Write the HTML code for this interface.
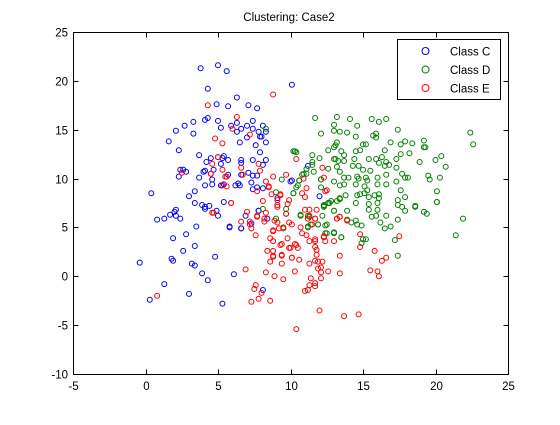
<!DOCTYPE html>
<html><head><meta charset="utf-8"><style>
body{margin:0;background:#fff;}
svg text{font-family:"Liberation Sans",Arial,sans-serif;font-size:11.5px;fill:#000;}
</style></head><body>
<svg id="chart" width="560" height="420" xmlns="http://www.w3.org/2000/svg">
<rect x="0" y="0" width="560" height="420" fill="#fff"/>
<text x="289" y="21" text-anchor="middle">Clustering: Case2</text>
<g id="marks"></g>
<g id="axes"></g>
<g id="legend"></g>
</svg>
<script>
const xTicks=[-5,0,5,10,15,20,25];
const yTicks=[-10,-5,0,5,10,15,20,25];
const seriesNames=["Class C","Class D","Class E"];
const seriesColors=["#0000ff","#008000","#ff0000"];
const classC=[[3.8,21.3],[5.0,21.6],[5.6,21.0],[4.3,19.2],[4.9,17.6],[5.7,17.4],[6.3,18.3],[7.1,17.5],[7.7,17.2],[2.7,15.4],[3.3,15.8],[4.1,16.0],[4.3,16.2],[5.0,15.9],[5.2,15.2],[5.9,15.4],[6.3,15.7],[6.6,15.1],[7.0,15.4],[7.4,15.9],[8.1,15.4],[7.8,14.8],[2.1,14.9],[3.3,14.6],[1.6,13.8],[2.3,12.9],[3.7,12.4],[4.2,11.7],[5.3,12.1],[6.5,13.7],[7.0,14.2],[7.6,13.4],[8.0,14.3],[8.3,14.8],[7.4,15.1],[2.4,10.9],[2.6,10.9],[2.3,10.2],[2.8,10.7],[4.0,10.7],[3.7,10.1],[4.7,10.9],[4.6,9.4],[5.7,10.4],[6.4,9.5],[6.6,10.4],[5.2,9.3],[6.2,9.3],[7.3,9.6],[7.7,10.3],[7.4,11.9],[5.7,11.9],[6.6,11.9],[7.9,12.7],[0.4,8.5],[3.0,8.2],[3.4,8.7],[2.1,6.8],[2.0,6.6],[4.4,7.2],[3.9,7.3],[0.8,5.8],[1.7,6.3],
[1.3,5.9],[2.1,6.2],[2.4,5.9],[3.4,7.5],[4.1,7.1],[4.1,6.9],[4.9,6.7],[5.0,6.2],[5.4,7.6],[3.5,5.1],[2.8,4.3],[1.9,3.9],[2.6,2.6],[3.4,3.1],[1.8,1.8],[1.9,1.6],[-0.4,1.4],[3.2,1.3],[3.4,1.1],[4.8,2.0],[3.9,0.3],[4.3,-0.4],[6.1,0.2],[1.3,-0.8],[3.0,-1.8],[0.3,-2.4],[5.3,-2.8],[5.8,5.1],[6.6,4.9],[6.9,6.2],[7.3,5.4],[7.8,6.7],[8.4,5.9],[8.1,-1.4],
[8.3,13.7],[7.9,14.3],[8.3,11.9],[8.1,11.4],[7.1,10.6],[7.4,10.3],[7.7,9.1],[8.1,9.0],[7.4,8.9],[10.0,9.7],[11.2,11.3],[12.0,8.2],[9.1,8.0],[7.8,6.7],[6.6,4.9],[5.8,5.0],[4.1,10.8],[4.6,9.9],[4.1,9.3],[6.5,9.3],[5.4,9.4],[5.2,11.5],[5.4,12.3],[4.5,12.1],[6.6,11.6],[6.3,14.8],[10.1,19.6],[10.1,9.8]];
const classD=[[11.7,16.2],[13.2,16.3],[14.1,16.1],[15.6,16.1],[16.1,15.8],[16.6,16.1],[13.0,15.5],[14.6,15.4],[13.0,14.9],[13.4,14.8],[12.1,14.6],[13.9,14.7],[15.9,14.6],[15.7,14.4],[14.5,14.3],[15.9,14.2],[17.4,15.0],[22.4,14.7],[22.6,13.5],[19.2,13.9],[19.2,13.2],[19.3,13.2],[18.4,13.6],[17.9,13.8],[17.6,13.5],[16.9,13.7],[15.0,13.5],[15.2,13.5],[13.2,13.7],[13.0,13.2],[12.6,12.9],[13.5,12.8],[14.5,12.8],[14.8,12.9],[16.5,12.9],[17.6,12.5],[18.2,12.6],[10.3,12.8],[10.4,12.7],[11.5,12.4],[12.0,12.1],[13.1,12.0],[13.3,11.8],[13.7,12.4],[13.7,11.8],[14.4,12.0],[15.4,12.0],[15.9,12.0],[16.3,12.2],[16.6,11.7],[17.3,12.0],[18.9,11.7],[20.0,11.9],[20.4,12.3],[20.7,11.2],[11.5,11.7],[11.5,11.4],[11.1,11.0],[12.6,11.0],[13.2,11.2],[14.3,11.3],[14.7,11.3],[15.0,10.9],[15.5,10.8],[16.1,11.6],[16.5,11.3],[16.8,11.4],[17.3,11.1],[17.7,10.5],[17.9,10.1],[18.1,10.1],[19.5,10.3],[20.3,10.1],[19.6,9.9],[10.9,10.5],[10.6,9.8],[10.4,9.1],[10.2,8.5],[12.1,9.9],[13.4,10.7],[13.7,10.1],[14.0,10.1],[13.0,9.7],[13.4,9.3],[13.7,9.4],[14.6,10.2],[14.7,10.0],[15.2,10.1],[15.3,9.8],[15.1,9.2],[14.5,9.4],[16.0,10.1],[16.6,10.4],[16.0,9.4],[16.6,9.4],[17.3,9.7],[17.6,8.8],[17.9,8.1],[17.4,7.8],[15.3,8.8],[15.1,8.5],[14.8,8.4],[14.6,8.3],[15.4,8.1],[15.8,8.3],[16.1,8.4],[16.1,8.0],[20.1,8.7],[20.1,7.6],[18.6,7.2],[13.8,8.3],[13.4,8.0],[12.8,7.7],[12.6,7.5],[12.3,7.3],[12.1,9.1],[13.0,12.0],
[12.3,7.2],[12.7,7.5],[13.2,7.7],[14.5,7.5],[15.4,7.4],[16.0,7.5],[17.4,7.3],[17.7,7.1],[17.9,6.7],[18.6,7.1],[19.2,6.6],[19.4,6.4],[20.1,7.6],[21.9,5.9],[21.4,4.2],[13.0,6.7],[13.9,6.7],[15.4,6.8],[16.0,6.8],[16.6,6.2],[15.9,6.2],[15.6,6.1],[12.2,6.2],[10.7,6.2],[11.2,6.2],[14.5,5.7],[14.2,5.5],[14.6,5.3],[14.9,5.2],[16.2,5.5],[17.4,5.8],[16.9,5.1],[16.5,4.9],[12.4,5.2],[11.9,5.3],[11.4,5.3],[11.2,5.1],[12.5,4.4],[13.0,4.5],[13.5,4.0],[15.0,3.8],[15.2,3.8],[14.9,3.4],[17.2,3.7],[17.4,2.1],
[8.3,15.1],[9.4,9.9],[9.0,8.6],[10.2,12.8],[13.1,13.4],[11.6,10.7],[12.1,9.9],[11.1,10.5],[10.8,10.4],[10.6,9.8],[10.5,9.3],[10.2,8.5],[12.6,7.5],[12.3,7.1],[13.0,6.7],[13.4,7.9],[9.7,6.9],[8.1,6.9],[9.7,6.4],[10.7,6.3],[9.0,5.9],[11.3,6.1],[11.9,5.3],[12.5,5.3],[11.2,5.0],[9.5,5.0],[12.4,4.4],[13.0,4.4],[13.5,4.0],[13.9,5.8]];
const classE=[[8.8,18.6],[4.3,17.5],[6.3,16.3],[6.0,15.1],[7.2,14.5],[4.8,14.1],[5.3,13.6],[5.0,12.2],[4.6,11.5],[5.3,10.9],[4.5,10.5],[5.5,10.2],[6.6,11.1],[6.7,10.4],[7.8,11.5],[7.9,10.8],[8.3,9.7],[8.8,10.2],[9.7,10.4],[2.5,10.6],[5.6,9.2],[7.7,8.7],[8.5,9.2],[8.7,8.4],[9.3,8.4],[9.3,8.3],[9.9,7.8],[8.1,7.7],[9.1,7.8],[5.9,7.5],[9.1,7.3],[9.8,7.4],
[4.6,6.5],[6.6,5.6],[7.0,6.6],[7.2,5.6],[7.3,4.9],[7.6,4.2],[7.7,6.1],[8.2,5.6],[8.3,6.5],[8.9,5.7],[9.1,7.1],[9.1,5.5],[8.8,4.7],[9.2,4.9],[9.5,4.9],[9.7,6.4],[9.9,5.5],[8.6,3.9],[8.8,3.6],[9.8,3.9],[9.4,3.3],[9.4,2.1],[9.9,2.9],[8.4,2.6],[8.8,2.6],[8.8,2.0],[8.6,1.5],[9.4,1.3],[10.1,1.9],[6.9,0.7],[8.3,0.4],[8.9,0.0],[9.5,-0.3],[7.6,-0.9],[7.5,-1.3],[8.0,-1.7],[7.8,-2.3],[7.3,-2.6],[8.6,-2.5],[0.8,-2.0],
[11.0,6.8],[11.3,6.8],[11.8,6.8],[11.3,6.2],[11.7,5.9],[11.5,5.3],[10.1,5.3],[10.7,5.0],[10.8,4.4],[11.3,3.6],[11.7,3.6],[12.3,4.0],[12.4,3.6],[13.0,3.6],[13.4,6.1],[13.2,5.9],[13.9,5.7],[14.8,4.3],[14.8,3.0],[15.8,2.6],[17.5,4.1],[10.3,3.3],[10.5,2.9],[10.0,2.9],[11.8,2.7],[10.1,1.9],[10.6,1.7],[11.7,1.6],[12.2,1.5],[11.3,1.3],[13.4,2.1],[16.6,1.9],[16.3,1.6],[11.9,0.8],[12.1,0.4],[12.6,0.5],[13.4,0.3],[10.3,0.5],[15.5,0.6],[16.0,0.5],[16.1,0.0],[11.4,-0.2],[12.1,-0.2],[11.7,-0.7],[11.7,-1.0],[11.3,-0.9],[11.2,-1.4],[11.0,-1.5],[12.0,-3.5],[13.7,-4.1],[14.7,-3.9],[10.4,-5.4],
[8.5,9.1],[10.4,12.0],[12.2,11.1],[12.5,8.8],[12.4,8.7],[10.8,8.5],[11.0,8.1],[7.7,6.2],[7.2,5.3],[8.2,5.9],[8.8,4.6],[9.3,3.2],[8.8,2.1],[9.4,2.2],[10.4,3.2],[11.1,4.2],[11.7,3.8],[11.7,3.0],[11.8,2.2],[11.2,5.9],[11.7,5.9],[12.3,4.1],[11.9,1.5],[12.1,0.9],[13.2,5.9],[13.4,6.1],[10.9,10.0],[11.1,9.0],[12.3,10.1],[4.7,6.5],[5.9,7.5],[4.5,10.5],[5.0,12.2],[5.6,10.2],[5.3,9.3]];
const series=[classC,classD,classE];

const L=73,R=508,T=32,B=374;
const X0=-5,X1=25,Y0=-10,Y1=25;
function sx(v){return L+(v-X0)/(X1-X0)*(R-L);}
function sy(v){return B-(v-Y0)/(Y1-Y0)*(B-T);}
const NS="http://www.w3.org/2000/svg";
function mk(tag,attrs,parent){const e=document.createElementNS(NS,tag);for(const k in attrs)e.setAttribute(k,attrs[k]);parent.appendChild(e);return e;}

const marks=document.getElementById('marks');
series.forEach((pts,si)=>{
  const g=mk('g',{},marks);
  
  
  pts.forEach(p=>{
    const c=mk('circle',{cx:sx(p[0]).toFixed(1),cy:sy(p[1]).toFixed(1),r:2.5,fill:'none',stroke:seriesColors[si],'stroke-width':1},g);
    
    
  });
});

const axes=document.getElementById('axes');
const box=mk('rect',{x:L+0.5,y:T+0.5,width:R-L,height:B-T,fill:'none',stroke:'#000','stroke-width':1},axes);


xTicks.forEach(v=>{
  const x=Math.round(sx(v))+0.5;
  mk('line',{x1:x,x2:x,y1:B+0.5,y2:B-4.5,stroke:'#000'},axes);
  mk('line',{x1:x,x2:x,y1:T+0.5,y2:T+5.5,stroke:'#000'},axes);
  const t=mk('text',{x:x,y:B+16,'text-anchor':'middle'},axes);
  t.textContent=v;
  
  
});
yTicks.forEach(v=>{
  const y=Math.round(sy(v))+0.5;
  mk('line',{x1:L+0.5,x2:L+5.5,y1:y,y2:y,stroke:'#000'},axes);
  mk('line',{x1:R+0.5,x2:R-4.5,y1:y,y2:y,stroke:'#000'},axes);
  const t=mk('text',{x:L-5,y:y+4,'text-anchor':'end'},axes);
  t.textContent=v;
  
  
});

const leg=document.getElementById('legend');
const lb=mk('rect',{x:397.5,y:39.5,width:103,height:60,fill:'#fff',stroke:'#000'},leg);


seriesNames.forEach((n,i)=>{
  const y=51+i*18.5;
  const c=mk('circle',{cx:425.5,cy:y,r:3.5,fill:'none',stroke:seriesColors[i],'stroke-width':1},leg);
  
  
  const t=mk('text',{x:450,y:y+4.5},leg);
  t.textContent=n;
  
  
});
</script>
</body></html>
